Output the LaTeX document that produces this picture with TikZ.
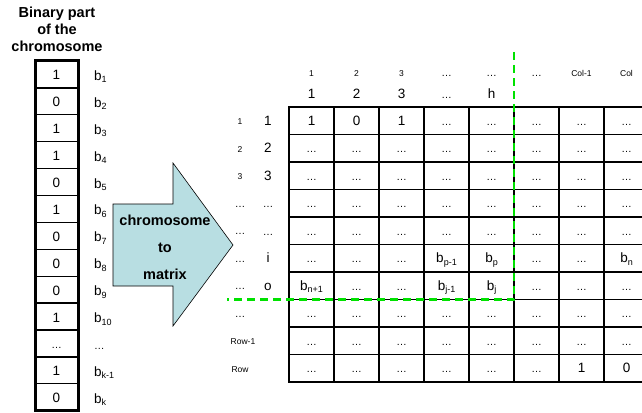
\documentclass[tikz,border=0pt]{standalone}
\usepackage{fontspec}
\setmainfont{Liberation Sans}
\definecolor{greenline}{RGB}{0,225,0}
\definecolor{arrowfill}{RGB}{184,222,226}
\newcommand{\sbs}[1]{\raisebox{-0.35ex}{\fontsize{9}{9}\selectfont #1}}
\newcommand{\ld}{{\fontsize{10.5}{11}\selectfont …}}
\begin{document}
\begin{tikzpicture}[x=1pt,y=-1pt,
  cellL/.style={draw, line width=1.3pt, minimum width=43pt, minimum height=26.9pt, inner sep=0pt, text height=11pt, text depth=0pt, font=\fontsize{13.5}{14}\selectfont},
  cellM/.style={draw, line width=1.4pt, minimum width=45pt, minimum height=27.5pt, inner sep=0pt, text height=9.5pt, text depth=0.5pt, font=\fontsize{13.5}{14}\selectfont},
  small/.style={inner sep=0pt, anchor=base, font=\fontsize{8.5}{9}\selectfont},
  big/.style={inner sep=0pt, anchor=base, font=\fontsize{13.5}{14}\selectfont},
  titletext/.style={inner sep=0pt, anchor=base, font=\bfseries\fontsize{14.5}{17}\selectfont},
  cutline/.style={draw=greenline, line width=2.5pt, dash pattern=on 8pt off 5pt}
]
\clip (0,0) rectangle (642,412);
% title
\node[titletext] (t1) at (57,18) {Binary part};
\node[titletext] (t2) at (57,35) {of the};
\node[titletext] (t3) at (57,52) {chromosome};
% left column
\foreach \v [count=\i] in {1,0,1,1,0,1,0,0,0,1,\ld,1,0}
  \node[cellL] (L\i) at (56.5,{61+26.9*(\i-0.5)}) {\v};
\draw[line width=3pt] (35,61) rectangle (78,410.7);
\foreach \t [count=\i] in {b\sbs{1},b\sbs{2},b\sbs{3},b\sbs{4},b\sbs{5},b\sbs{6},b\sbs{7},b\sbs{8},b\sbs{9},b\sbs{10},\ld,b\sbs{k-1},b\sbs{k}}
  \node[big, anchor=base west] (B\i) at (94,{61+26.9*(\i-0.5)+6}) {\t};
% arrow
\draw[fill=arrowfill, line width=0.6pt] (113,204) -- (173,204) -- (173,163) -- (233,245) -- (173,326) -- (173,286) -- (113,286) -- cycle;
\node[titletext] (a1) at (165,225) {chromosome};
\node[titletext] (a2) at (165,252) {to};
\node[titletext] (a3) at (165,279) {matrix};
% matrix cells
\foreach \r/\items in {
  1/{1,0,1,\ld,\ld,\ld,\ld,\ld},
  2/{\ld,\ld,\ld,\ld,\ld,\ld,\ld,\ld},
  3/{\ld,\ld,\ld,\ld,\ld,\ld,\ld,\ld},
  4/{\ld,\ld,\ld,\ld,\ld,\ld,\ld,\ld},
  5/{\ld,\ld,\ld,\ld,\ld,\ld,\ld,\ld},
  6/{\ld,\ld,\ld,b\sbs{p-1},b\sbs{p},\ld,\ld,b\sbs{n}},
  7/{b\sbs{n+1},\ld,\ld,b\sbs{j-1},b\sbs{j},\ld,\ld,\ld},
  8/{\ld,\ld,\ld,\ld,\ld,\ld,\ld,\ld},
  9/{\ld,\ld,\ld,\ld,\ld,\ld,\ld,\ld},
  10/{\ld,\ld,\ld,\ld,\ld,\ld,1,0}}
{
  \foreach \t [count=\c] in \items
    \node[cellM] (m-\r-\c) at ({289+45*(\c-0.5)},{107+27.5*(\r-0.5)}) {\t};
}
\draw[line width=2.2pt] (289,107) rectangle (660,382);
% column headers
\foreach \t [count=\c] in {1,2,3,\ld,\ld,\ld,Col-1,Col}
  \node[small] (ch\c) at ({289+45*(\c-0.5)},76) {\t};
\foreach \t [count=\c] in {1,2,3,\ld,h}
  \node[big] (cb\c) at ({289+45*(\c-0.5)},98) {\t};
% row headers
\foreach \t [count=\r] in {1,2,3,\ld,\ld,\ld,\ld,\ld}
  \node[small] (rs\r) at (240,{107+27.5*(\r-0.5)+4}) {\t};
\node[small] (rs9) at (243,{107+27.5*8.5+4}) {Row-1};
\node[small] (rs10) at (240,{107+27.5*9.5+4}) {Row};
\foreach \t [count=\r] in {1,2,3,\ld,\ld,i,o}
  \node[big] (rb\r) at (268,{107+27.5*(\r-0.5)+4.5}) {\t};
% green cut line
\coordinate (gtop) at (514,52);
\coordinate (gleft) at (227,299.5);
\draw[cutline] (gtop) |- (gleft);
\end{tikzpicture}
\end{document}
